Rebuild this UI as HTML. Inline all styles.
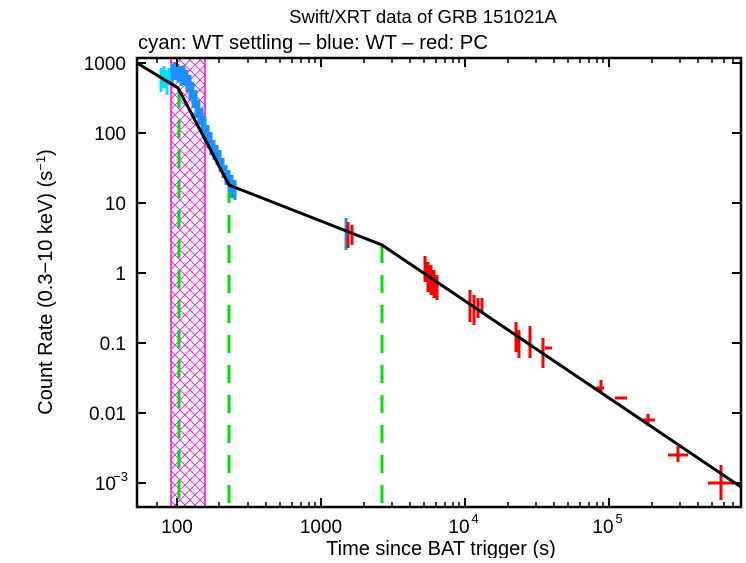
<!DOCTYPE html>
<html><head><style>
body{margin:0;background:#fff;}
svg text{font-family:"Liberation Sans",sans-serif;}
</style></head><body>
<svg width="746" height="558" viewBox="0 0 746 558" xmlns="http://www.w3.org/2000/svg">
<defs>
<pattern id="h" width="10" height="10" patternUnits="userSpaceOnUse">
<path d="M0,0L10,10M10,0L0,10" stroke="#f0f" stroke-width="0.8"/>
</pattern>
<clipPath id="c"><rect x="137" y="58" width="604" height="449"/></clipPath>
</defs>
<text x="423" y="23" font-size="18.5" text-anchor="middle">Swift/XRT data of GRB 151021A</text>
<text x="138" y="49" font-size="20" textLength="350" lengthAdjust="spacingAndGlyphs">cyan: WT settling – blue: WT – red: PC</text>
<g clip-path="url(#c)">
<rect x="171" y="58" width="34" height="449" fill="url(#h)" stroke="#f0f" stroke-width="1.5"/>
<g stroke="#00e000" stroke-width="3" stroke-dasharray="18,12">
<line x1="179" y1="90" x2="179" y2="507"/>
<line x1="229" y1="185" x2="229" y2="507"/>
<line x1="382" y1="245" x2="382" y2="507"/>
</g>
<g stroke="#00e0ff" stroke-width="3">
<path d="M161,68V92M164,66V88M167,70V95M169,68V85"/>
</g>
<g stroke="#1e90ff" stroke-width="3">
<path d="M172,64V84M175,62V80M178,64V82M181,66V86M184,65V85M187,70V92M190,75V100M193,82V108M196,90V118M199,100V125M202,108V132M205,116V140M208,125V148M211,132V155M214,140V160M217,145V165M220,150V172M223,158V178M226,165V185M229,170V192M232,175V198M235,180V200M346,218V250"/>
</g>
<g stroke="#f00" stroke-width="3">
<path d="M348,222V248M352,225V245M425,256V282M428,262V292M431,265V295M434,270V298M437,275V300M470,290V322M474,295V325M478,298V318M482,298V312M516,322V352M519,330V358M530,326V358M543,338V368M545,348H552M601,380V392M596,388H604M615,398H627M648,414V426M643,420H655M678,446V462M668,455H688M721,465V500M708,483H734"/>
</g>
<path d="M137,63L178,88L229,185L382,245L741,487" fill="none" stroke="#000" stroke-width="3"/>
</g>
<rect x="137" y="58" width="604" height="449" fill="none" stroke="#000" stroke-width="2.5"/>
<g stroke="#000" stroke-width="2">
<path d="M177,507v-9M321,507v-9M465,507v-9M609,507v-9M177,58v9M321,58v9M465,58v9M609,58v9"/>
<path d="M137,63h9M137,133h9M137,203h9M137,273h9M137,343h9M137,413h9M137,483h9M741,63h-9M741,133h-9M741,203h-9M741,273h-9M741,343h-9M741,413h-9M741,483h-9"/>
</g>
<g stroke="#000" stroke-width="1.5">
<path d="M157,507v-5M219,507v-5M248,507v-5M266,507v-5M280,507v-5M292,507v-5M301,507v-5M309,507v-5M315,507v-5M364,507v-5M392,507v-5M410,507v-5M424,507v-5M436,507v-5M445,507v-5M453,507v-5M459,507v-5M508,507v-5M536,507v-5M554,507v-5M568,507v-5M580,507v-5M589,507v-5M597,507v-5M603,507v-5M652,507v-5M680,507v-5M698,507v-5M712,507v-5M724,507v-5M733,507v-5"/>
<path d="M157,58v5M219,58v5M248,58v5M266,58v5M280,58v5M292,58v5M301,58v5M309,58v5M315,58v5M364,58v5M392,58v5M410,58v5M424,58v5M436,58v5M445,58v5M453,58v5M459,58v5M508,58v5M536,58v5M554,58v5M568,58v5M580,58v5M589,58v5M597,58v5M603,58v5M652,58v5M680,58v5M698,58v5M712,58v5M724,58v5M733,58v5"/>
</g>
<g font-size="19" text-anchor="end">
<text x="126" y="70">1000</text><text x="126" y="140">100</text><text x="126" y="210">10</text>
<text x="126" y="280">1</text><text x="126" y="350">0.1</text><text x="126" y="420">0.01</text>
<text x="116" y="490">10</text><text x="128" y="481" font-size="13">−3</text>
</g>
<g font-size="19" text-anchor="middle">
<text x="177" y="533">100</text><text x="321" y="533">1000</text>
<text x="459" y="533">10</text><text x="475" y="523" font-size="13">4</text>
<text x="603" y="533">10</text><text x="619" y="523" font-size="13">5</text>
<text x="441" y="555" font-size="20">Time since BAT trigger (s)</text>
</g>
<text transform="translate(52,282) rotate(-90)" font-size="20" text-anchor="middle">Count Rate (0.3−10 keV) (s<tspan font-size="13" dy="-7">−1</tspan><tspan dy="7">)</tspan></text>
</svg>
</body></html>
